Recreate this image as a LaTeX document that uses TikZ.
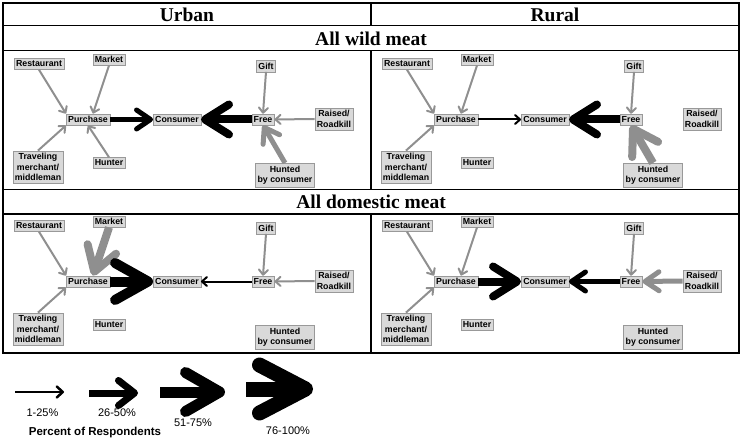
\documentclass[tikz,border=0pt]{standalone}
\usepackage{fontspec}
\setmainfont{Liberation Serif}
\setsansfont{Liberation Sans}
\usetikzlibrary{arrows.meta}
\definecolor{boxfill}{gray}{0.85}
\definecolor{boxline}{gray}{0.6}
\definecolor{flowgray}{gray}{0.56}
\begin{document}
\begin{tikzpicture}[x=1pt, y=-1pt,
  box/.style={draw=boxline, fill=boxfill, font=\sffamily\bfseries\fontsize{8.8}{10.5}\selectfont, inner xsep=2pt, inner ysep=2.5pt, align=center},
  title/.style={font=\bfseries\fontsize{19.5}{20}\selectfont},
  key/.style={font=\sffamily\fontsize{11}{13}\selectfont},
  flow/.style n args={3}{line width=#1, -{Straight Barb[round, length=#2, width=#3]}},
  one/.style={flow={2pt}{5pt}{9pt}},
  two/.style={flow={5pt}{14pt}{19pt}},
  three/.style={flow={8pt}{24pt}{30pt}},
  four/.style={flow={10pt}{33pt}{37pt}},
  gr/.style={draw=flowgray}]
\useasboundingbox (0,0) rectangle (743,443);
\draw[line width=1.2pt] (3,3) rectangle (739,353);
\foreach \y in {25.7,50.7,189.3,214}
    \draw[line width=1.2pt] (3,\y) -- (739,\y);
\draw[line width=1.2pt] (371,3) -- (371,25.7) (371,50.7) -- (371,189.3) (371,214) -- (371,353);
\node[title] (urban) at (187,14.5) {Urban};
\node[title] (rural) at (555,14.5) {Rural};
\node[title] (wild) at (371,38.5) {All wild meat};
\node[title] (dom) at (371,201.8) {All domestic meat};

\foreach \p/\dx/\dy in {uw/0/0, rw/368/0, ud/0/162, rd/368/162}
{
\begin{scope}[shift={(\dx,\dy)}]
    \node[box] (\p-rest) at (39,64) {Restaurant};
    \node[box] (\p-mkt) at (109,59.5) {Market};
    \node[box] (\p-gift) at (266,66) {Gift};
    \node[box] (\p-purch) at (88,119.5) {Purchase};
    \node[box] (\p-cons) at (177,119.5) {Consumer};
    \node[box] (\p-free) at (263,119.5) {Free};
    \node[box] (\p-raised) at (334,119) {Raised/\\Roadkill};
    \node[box] (\p-trav) at (38,167) {Traveling\\merchant/\\middleman};
    \node[box] (\p-hunter) at (109,163) {Hunter};
    \node[box] (\p-hunted) at (285,175) {Hunted\\by consumer};
\end{scope}
}

\foreach \p in {uw,rw,ud,rd}
{
    \draw[gr,one] (\p-rest.south) -- (\p-purch.north west);
    \draw[gr,one] (\p-trav.north) -- (\p-purch.south west);
    \draw[gr,one] (\p-gift.south) -- (\p-free.north);
}
\foreach \p/\w in {uw/one, rw/one, ud/three, rd/one}
    \draw[gr,\w] (\p-mkt.south) -- ([xshift=5pt]\p-purch.north);
\foreach \p/\w in {uw/two, rw/one, ud/four, rd/three}
    \draw[\w] (\p-purch.east) -- (\p-cons.west);
\foreach \p/\w in {uw/three, rw/three, ud/one, rd/two}
    \draw[\w] (\p-free.west) -- (\p-cons.east);
\draw[gr,one] (uw-hunter.north) -- (uw-purch.south);
\foreach \p/\w in {uw/one, ud/one, rd/two}
    \draw[gr,\w] (\p-raised.west) -- (\p-free.east);
\foreach \p/\w in {uw/two, rw/three}
    \draw[gr,\w] (\p-hunted.north) -- (\p-free.south);

\coordinate (k1a) at (15,392); \coordinate (k1b) at (64,392);
\coordinate (k2a) at (89,393); \coordinate (k2b) at (138,393);
\coordinate (k3a) at (160,392); \coordinate (k3b) at (225,392);
\coordinate (k4a) at (246,389); \coordinate (k4b) at (313,389);
\draw[flow={2.5pt}{6pt}{11pt}] (k1a) -- (k1b);
\draw[flow={7pt}{16pt}{25pt}] (k2a) -- (k2b);
\draw[flow={11pt}{34pt}{39pt}] (k3a) -- (k3b);
\draw[flow={15pt}{46pt}{48pt}] (k4a) -- (k4b);
\node[key] (k1) at (42.5,413) {1-25\%};
\node[key] (k2) at (117,413) {26-50\%};
\node[key] (k3) at (193,423) {51-75\%};
\node[key] (k4) at (288,431) {76-100\%};
\node[key, font=\sffamily\bfseries\fontsize{11.5}{13}\selectfont] (pct) at (95,433) {Percent of Respondents};
\end{tikzpicture}
\end{document}
